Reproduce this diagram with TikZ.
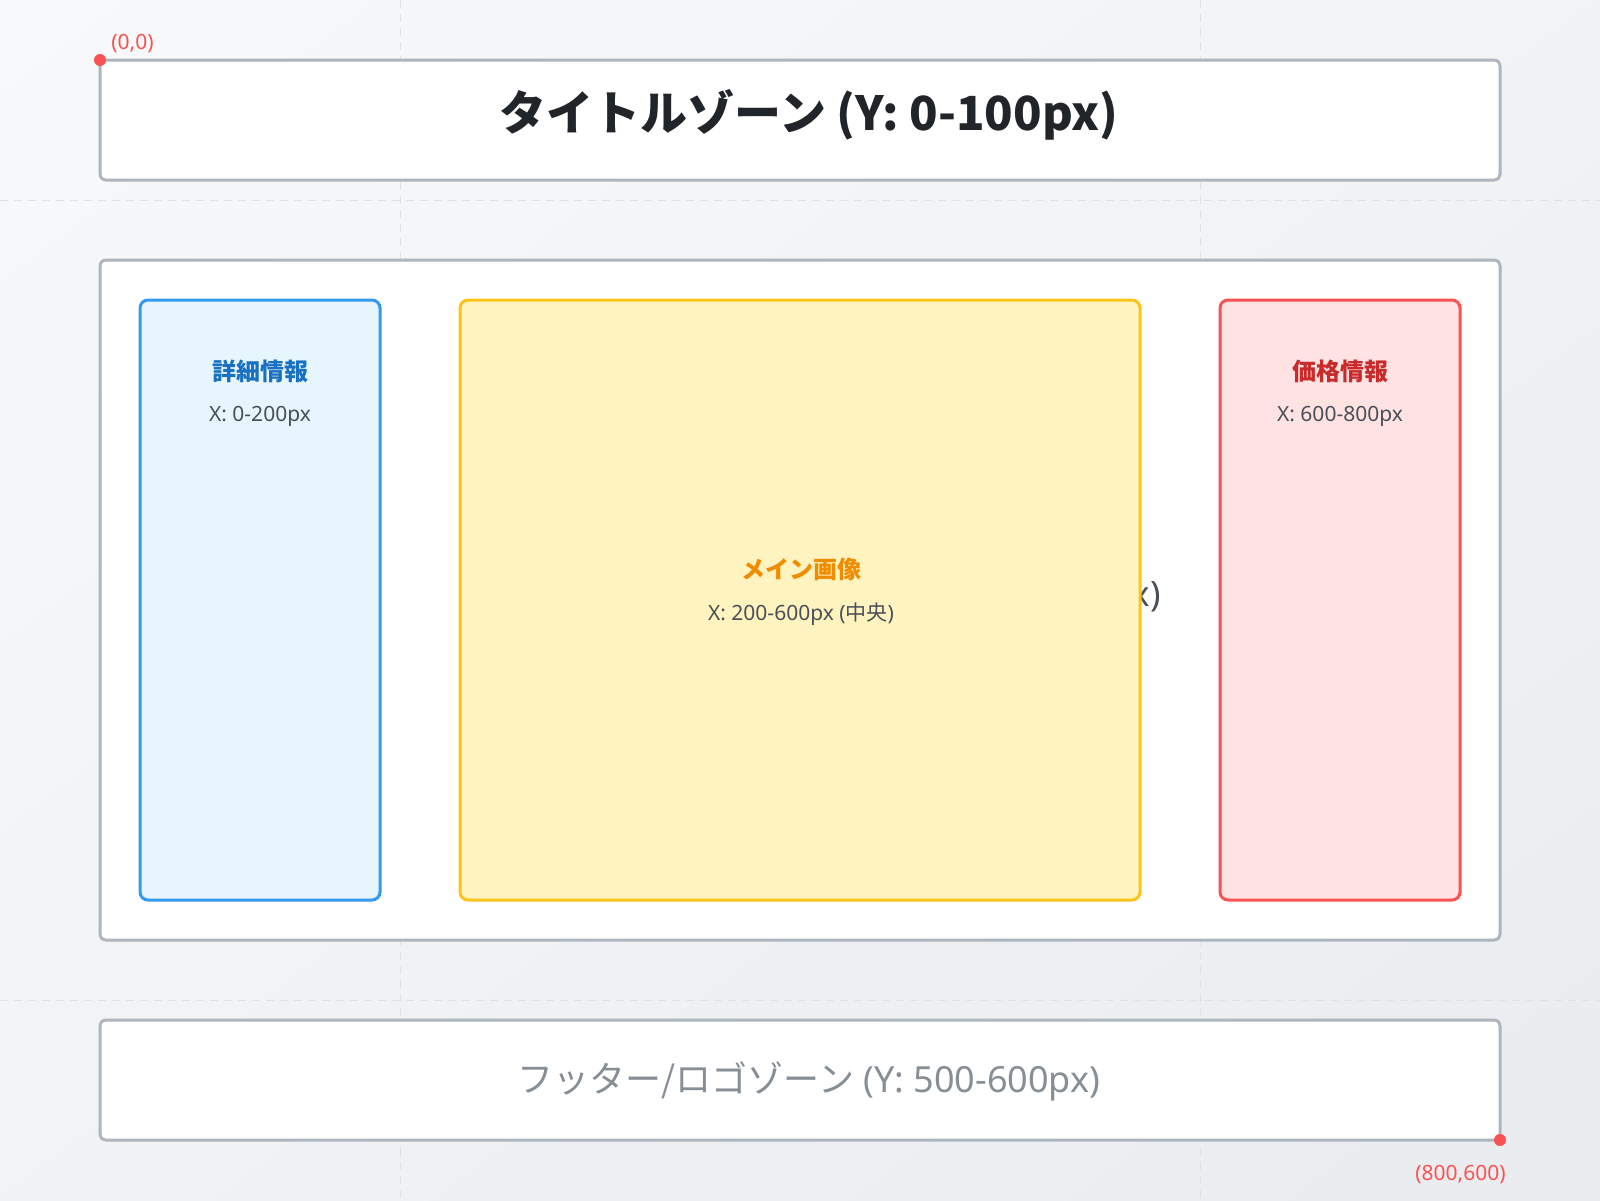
\documentclass[tikz,border=0pt]{standalone}
\usepackage{fontspec}
\setmainfont{Noto Sans}
\newfontfamily\jp{Noto Sans CJK JP}
\usetikzlibrary{positioning,shadings}

\definecolor{bgA}{HTML}{F8F9FA}
\definecolor{bgB}{HTML}{E9ECEF}
\definecolor{gridc}{HTML}{DEE2E6}
\definecolor{zoneline}{HTML}{ADB5BD}
\definecolor{darktxt}{HTML}{212529}
\definecolor{midtxt}{HTML}{495057}
\definecolor{foottxt}{HTML}{868E96}
\definecolor{bluefill}{HTML}{E7F5FF}
\definecolor{blueline}{HTML}{339AF0}
\definecolor{bluetxt}{HTML}{1971C2}
\definecolor{yelfill}{HTML}{FFF3BF}
\definecolor{yelline}{HTML}{FCC419}
\definecolor{yeltxt}{HTML}{F08C00}
\definecolor{redfill}{HTML}{FFE3E3}
\definecolor{redline}{HTML}{FA5252}
\definecolor{redtxt}{HTML}{C92A2A}

\begin{document}
\begin{tikzpicture}[x=0.5pt,y=-0.5pt,
   zone/.style={draw=zoneline,fill=white,line width=1.5pt,rounded corners=3pt,
     minimum width=700pt,inner sep=0pt},
   col/.style={line width=1.5pt,rounded corners=4pt,minimum width=#1,
     minimum height=300pt,inner sep=0pt},
   colhead/.style={font=\jp\bfseries\fontsize{12}{14}\selectfont,inner sep=0pt},
   colsub/.style={text=midtxt,font=\fontsize{10.5}{12}\selectfont,inner sep=0pt},
   gridline/.style={gridc,line width=0.5pt,dash pattern=on 4pt off 3pt},
   dot/.style={circle,fill=redline,inner sep=0pt,minimum size=6pt},
   coordlbl/.style={text=redline,font=\fontsize{10.5}{12}\selectfont,inner sep=0pt}]

 \useasboundingbox (0,0) rectangle (1600,1200);
 \shade[upper left=bgA,lower right=bgB,upper right=bgA!50!bgB,lower left=bgA!50!bgB]
   (0,0) rectangle (1600,1200);

 %dashed guide lines
 \draw[gridline] (400,0) -- (400,1200);
 \draw[gridline] (1200,0) -- (1200,1200);
 \draw[gridline] (0,200) -- (1600,200);
 \draw[gridline] (0,1000) -- (1600,1000);

 %title zone
 \node[zone,minimum height=60pt] (title) at (800,120) {};
 \node[text=darktxt,font=\jp\bfseries\fontsize{23.5}{27}\selectfont,inner sep=0pt] (titletxt) at (809,115)
   {タイトルゾーン (Y: 0-100px)};

 %content zone
 \node[zone,minimum height=340pt] (content) at (800,600) {};
 \node[anchor=east,text=midtxt,font=\fontsize{17.5}{20}\selectfont,inner sep=0pt] (contenttxt) at (1161,598)
   {(Y: 100-500px)};

 %three columns
 \node[col=120pt,draw=blueline,fill=bluefill] (detail) at (260,600) {};
 \node[col=340pt,draw=yelline,fill=yelfill] (mainimg) at (800,600) {};
 \node[col=120pt,draw=redline,fill=redfill] (price) at (1340,600) {};

 \node[colhead,text=bluetxt] (detailhead) at (260,371) {詳細情報};
 \node[colsub] (detailsub) at (260,416) {X: 0-200px};
 \node[colhead,text=yeltxt] (mainhead) at (801,569) {メイン画像};
 \node[colsub] (mainsub) at (801,614) {X: 200-600px ({\jp 中央})};
 \node[colhead,text=redtxt] (pricehead) at (1340,371) {価格情報};
 \node[colsub] (pricesub) at (1340,416) {X: 600-800px};

 %footer zone
 \node[zone,minimum height=60pt] (footer) at (800,1080) {};
 \node[text=foottxt,font=\fontsize{18}{21}\selectfont,inner sep=0pt] (footertxt) at (809,1081)
   {{\jp フッター/ロゴゾーン} (Y: 500-600px)};

 %corner markers
 \node[dot] (origin) at (100,60) {};
 \node[coordlbl,anchor=south west] (originlbl) at (111,53) {(0,0)};
 \node[dot] (far) at (1500,1140) {};
 \node[coordlbl,anchor=north east] (farlbl) at (1506,1165) {(800,600)};

\end{tikzpicture}
\end{document}
